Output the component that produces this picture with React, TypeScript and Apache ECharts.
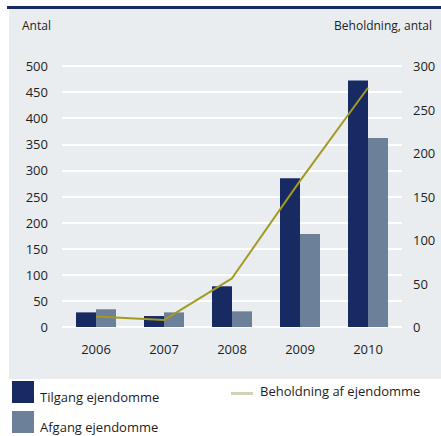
import React, { useEffect, useRef } from "react";
import * as echarts from "echarts";

const years = ["2006", "2007", "2008", "2009", "2010"];
const tilgang = [28, 21, 78, 285, 472];
const afgang = [34, 28, 30, 178, 362];
const beholdning = [12, 8, 56, 168, 275];

const FONT = "'Open Sans', 'Noto Sans', sans-serif";
const NAVY = "#182a62";
const GREYBLUE = "#6c8199";
const OLIVE = "#a39a20";
const TXT = "#1e1e1e";

export default function App() {
  const ref = useRef<HTMLDivElement>(null);
  useEffect(() => {
    const chart = echarts.init(ref.current!, null, { renderer: "svg" });
    chart.setOption({
      animation: false,
      backgroundColor: "#ffffff",
      textStyle: { fontFamily: FONT },
      grid: { left: 62, right: 39, top: 66, bottom: 109 },
      xAxis: {
        type: "category",
        data: years,
        axisLine: { show: false },
        axisTick: { show: false },
        axisLabel: { color: TXT, fontSize: 13, margin: 15, fontFamily: FONT },
      },
      yAxis: [
        {
          type: "value",
          min: 0,
          max: 500,
          interval: 50,
          axisLine: { show: false },
          axisTick: { show: false },
          axisLabel: { color: TXT, fontSize: 13, margin: 14, fontFamily: FONT },
          splitLine: { lineStyle: { color: "#ffffff", width: 2 } },
        },
        {
          type: "value",
          min: 0,
          max: 300,
          interval: 50,
          axisLine: { show: false },
          axisTick: { show: false },
          axisLabel: { color: TXT, fontSize: 13, margin: 11, fontFamily: FONT },
          splitLine: { show: false },
        },
      ],
      series: [
        {
          name: "Tilgang ejendomme",
          type: "bar",
          data: tilgang,
          barWidth: 20,
          barGap: "0%",
          itemStyle: { color: NAVY },
          z: 2,
        },
        {
          name: "Afgang ejendomme",
          type: "bar",
          data: afgang,
          barWidth: 20,
          barGap: "0%",
          itemStyle: { color: GREYBLUE },
          z: 2,
        },
        {
          name: "Beholdning af ejendomme",
          type: "line",
          yAxisIndex: 1,
          data: beholdning,
          showSymbol: false,
          symbol: "none",
          lineStyle: { color: OLIVE, width: 2 },
          z: 3,
        },
      ],
      graphic: [
        { type: "rect", z: -10, shape: { x: 9, y: 9, width: 432, height: 370 }, style: { fill: "#e9edf0" }, silent: true },
        { type: "rect", z: 10, shape: { x: 7, y: 6, width: 434, height: 3 }, style: { fill: NAVY }, silent: true },
        { type: "text", x: 22, y: 25, style: { text: "Antal", fill: TXT, font: `12px ${FONT}`, textVerticalAlign: "middle" } },
        { type: "text", x: 432, y: 25, style: { text: "Beholdning, antal", fill: TXT, font: `12px ${FONT}`, textAlign: "right", textVerticalAlign: "middle" } },
        { type: "rect", shape: { x: 12, y: 381, width: 22, height: 22 }, style: { fill: NAVY } },
        { type: "text", x: 40, y: 397, style: { text: "Tilgang ejendomme", fill: TXT, font: `13px ${FONT}`, textVerticalAlign: "middle" } },
        { type: "rect", shape: { x: 12, y: 411, width: 22, height: 22 }, style: { fill: GREYBLUE } },
        { type: "text", x: 40, y: 427, style: { text: "Afgang ejendomme", fill: TXT, font: `13px ${FONT}`, textVerticalAlign: "middle" } },
        { type: "rect", shape: { x: 231, y: 392, width: 22, height: 3 }, style: { fill: "#d3d0b8" } },
        { type: "text", x: 260, y: 391, style: { text: "Beholdning af ejendomme", fill: TXT, font: `13px ${FONT}`, textVerticalAlign: "middle" } },
      ],
    });
    return () => chart.dispose();
  }, []);
  return <div ref={ref} style={{ position: "fixed", left: 0, top: 0, width: 441, height: 436 }} />;
}
